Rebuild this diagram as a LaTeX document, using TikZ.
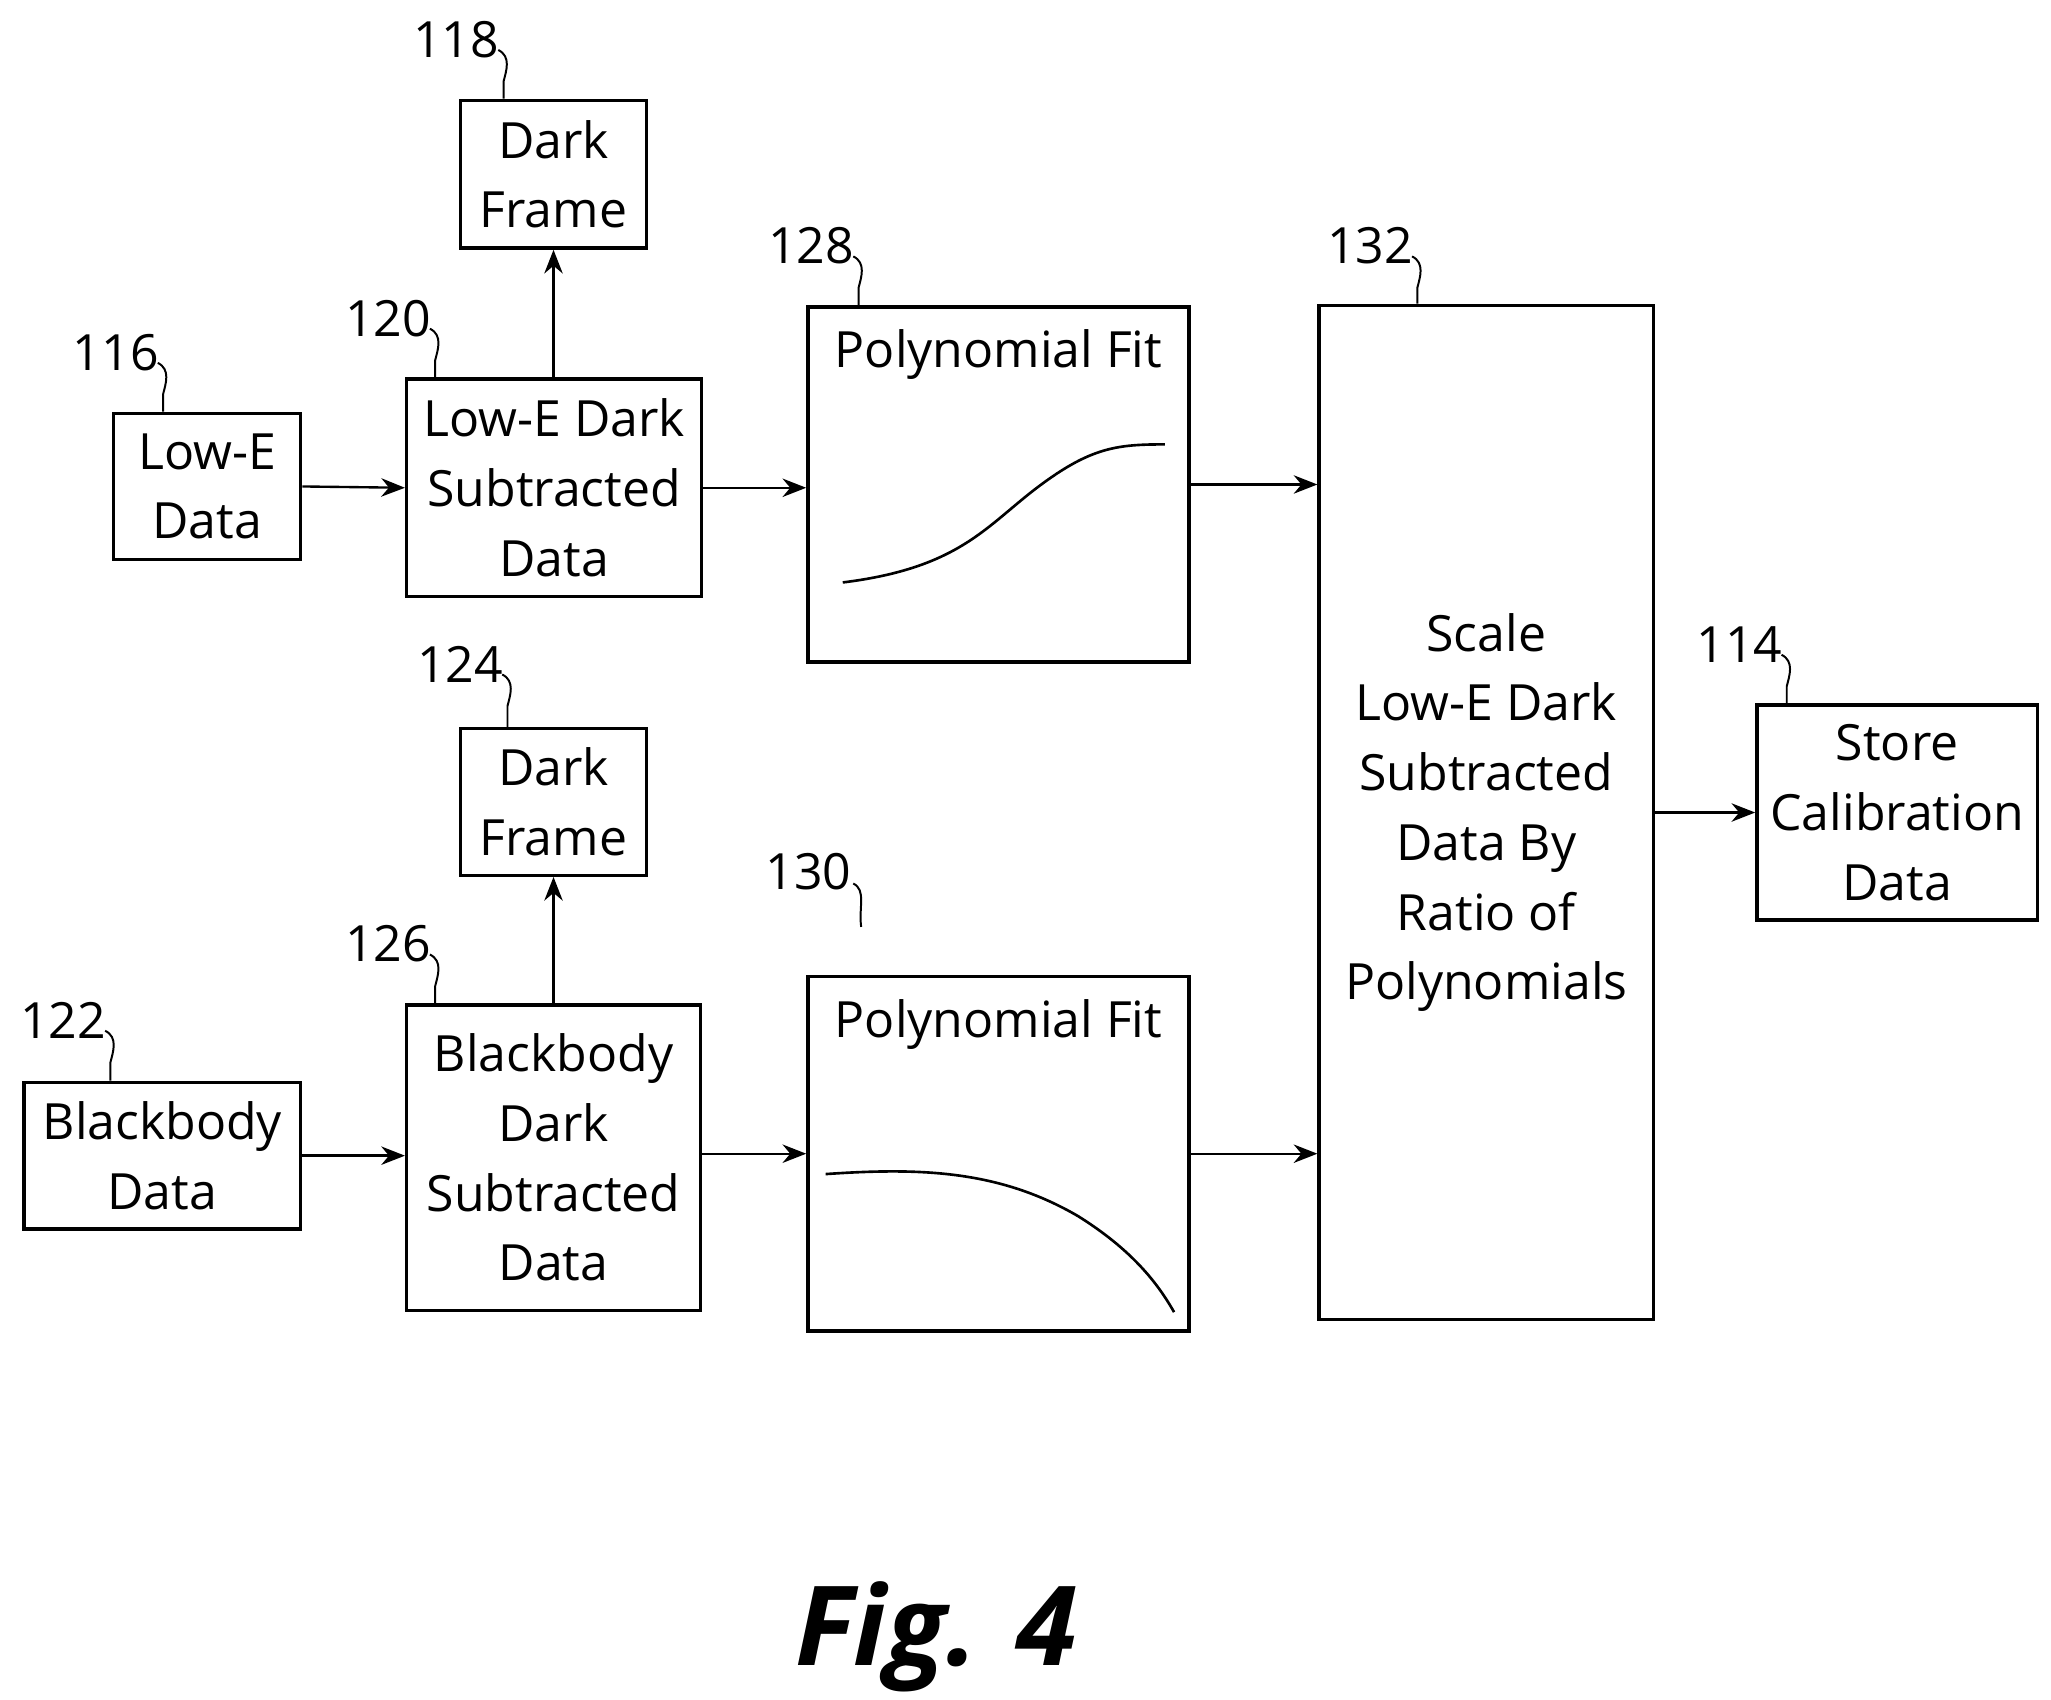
\documentclass[tikz,border=0pt]{standalone}
\usepackage{fontspec}
\setmainfont{Open Sans}
\usetikzlibrary{arrows.meta}
\begin{document}
\begin{tikzpicture}[x=1pt,y=-1pt,
 box/.style={draw,line width=2.6pt,align=center,inner sep=0pt,font=\fontsize{38}{53}\selectfont},
 arr/.style={line width=1.8pt,-{Stealth[length=18pt,width=14pt]}},
 lbl/.style={font=\fontsize{38}{40}\selectfont,inner sep=0pt},
 lead/.style={line width=1.5pt}]
\useasboundingbox (0,0) rectangle (1560,1293);
\newcommand\bx[6]{\node[box,minimum width=#4-#2-2.6,minimum height=#5-#3-2.6] (#1) at ({(#2+#4)/2},{(#3+#5)/2}) {#6};}
\bx{a}{85}{313}{230}{427}{Low-E\\Data}
\bx{b}{308}{287}{535}{455}{Low-E Dark\\Subtracted\\Data}
\bx{c}{349}{75}{493}{190}{Dark\\Frame}
\node[draw,line width=2.6pt,minimum width=290,minimum height=270,inner sep=0pt] (d) at (759.5,368.5) {};
\node[font=\fontsize{38}{46}\selectfont] (dt) at (759.5,270) {Polynomial Fit};
\bx{e}{1002}{231}{1259}{1005}{Scale\\Low-E Dark\\Subtracted\\Data By\\Ratio of\\Polynomials}
\bx{f}{1335}{535}{1551}{701}{Store\\Calibration\\Data}
\bx{g}{349}{553}{493}{667}{Dark\\Frame}
\bx{h}{308}{763}{534}{998}{Blackbody\\Dark\\Subtracted\\Data}
\bx{i}{17}{822}{230}{936}{Blackbody\\Data}
\node[draw,line width=2.6pt,minimum width=290,minimum height=270,inner sep=0pt] (j) at (759.5,877.5) {};
\node[font=\fontsize{38}{46}\selectfont] (jt) at (759.5,779) {Polynomial Fit};
% curves
\draw[line width=2pt] (641,443) .. controls (730,432) and (750,400) .. (790,370) .. controls (830,340) and (850,338) .. (886,338);
\draw[line width=2pt] (628,893) .. controls (700,888) and (760,890) .. (820,925) .. controls (860,950) and (880,975) .. (893,998);
% arrows
\draw[arr] (a.east) -- (b.west);
\draw[arr] (b.east) -- (b.east -| d.west);
\draw[arr] (d.east) -- (d.east -| e.west);
\draw[arr] (e.east |- f.west) -- (f.west);
\draw[arr] (i.east) -- (i.east -| h.west);
\draw[arr] (h.east |- j.east) -- (j.west);
\draw[arr] (j.east) -- (j.east -| e.west);
\draw[arr] (b.north -| c.south) -- (c.south);
\draw[arr] (h.north -| g.south) -- (g.south);
% labels
\newcommand\lb[5]{\node[lbl] (#1) at (#2,#3) {#4};
 \coordinate (#1e) at (#2+36,#5);
 \draw[lead] (#2+32,#3+8) .. controls (#2+42,#3+13) and (#2+38,#3+24) .. (#2+36,#3+32) -- (#1e);}
\lb{l118}{347}{30}{118}{75}
\lb{l116}{88}{268}{116}{313}
\lb{l120}{295}{242}{120}{287}
\lb{l128}{617}{187}{128}{232}
\lb{l132}{1042}{187}{132}{231}
\lb{l114}{1323}{490}{114}{535}
\lb{l124}{350}{505}{124}{553}
\lb{l126}{295}{718}{126}{763}
\lb{l122}{48}{776}{122}{822}
\node[lbl] (l130) at (615,663) {130};
\coordinate (l130e) at (655,705);
\draw[lead] (649,672) .. controls (659,677) and (653,690) .. (l130e);
\node[font=\fontsize{84}{90}\selectfont\bfseries\itshape] (fig) at (712,1245) {Fig. 4};
\end{tikzpicture}
\end{document}
